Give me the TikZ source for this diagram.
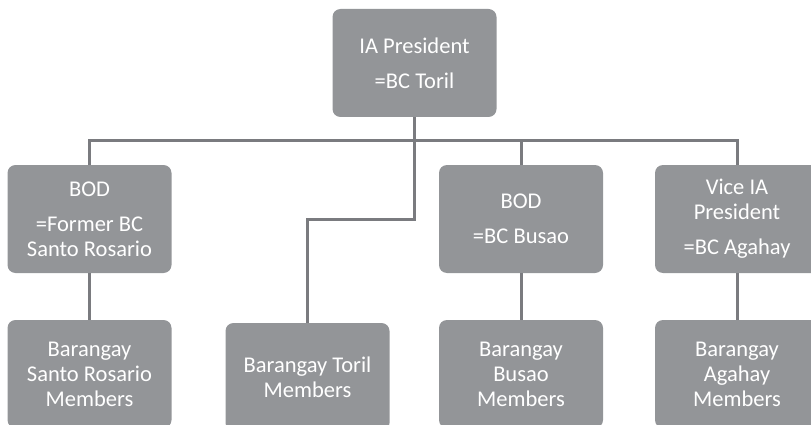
\documentclass[tikz,border=0pt]{standalone}
\usepackage{fontspec}
\setmainfont{Carlito}
\definecolor{boxgray}{RGB}{147,149,152}
\definecolor{linegray}{RGB}{122,123,127}
\begin{document}
\begin{tikzpicture}[x=1pt,y=-1pt,
  orgbox/.style={rectangle, rounded corners=8pt, fill=boxgray, text=white,
    minimum width=164pt, minimum height=108pt, align=center, inner sep=0pt,
    font=\fontsize{22.5}{25}\selectfont},
  conn/.style={draw=linegray, line width=3pt}]
\useasboundingbox (0,0) rectangle (811,425);
\clip (0,0) rectangle (811,425);
\node[orgbox] (top) at (414.5,63) {IA President\\[10pt]=BC Toril};
\node[orgbox] (b1) at (89.5,219) {BOD\\[10pt]=Former BC\\Santo Rosario};
\node[orgbox] (b3) at (521,219) {BOD\\[10pt]=BC Busao};
\node[orgbox] (b4) at (737,219) {Vice IA\\President\\[10pt]=BC Agahay};
\node[orgbox] (m1) at (89.5,374) {Barangay\\Santo Rosario\\Members};
\node[orgbox] (m2) at (307.5,377) {Barangay Toril\\Members};
\node[orgbox] (m3) at (521,374) {Barangay\\Busao\\Members};
\node[orgbox] (m4) at (737,374) {Barangay\\Agahay\\Members};
\coordinate (bus) at (0,141);
\coordinate (bend) at (0,219);
\draw[conn] (b1.north) |- (top.south |- bus) -| (b4.north);
\draw[conn] (b3.north) -- (b3.north |- bus);
\draw[conn] (top.south) -- (top.south |- bend) -| (m2.north);
\draw[conn] (b1.south) -- (m1.north);
\draw[conn] (b3.south) -- (m3.north);
\draw[conn] (b4.south) -- (m4.north);
\end{tikzpicture}
\end{document}
